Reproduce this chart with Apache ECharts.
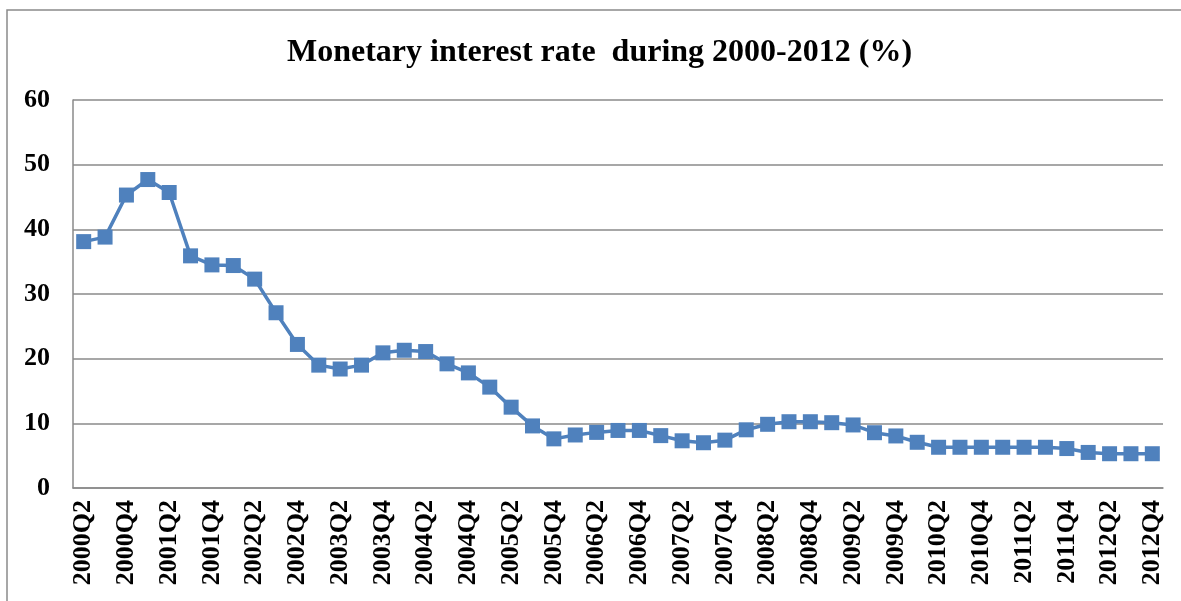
<!DOCTYPE html>
<html>
<head>
<meta charset="utf-8">
<script src="https://cdn.jsdelivr.net/npm/echarts@6/dist/echarts.min.js"></script>
<style>
  html, body { margin: 0; padding: 0; background: #ffffff; }
  #chart { width: 1181px; height: 601px; }
</style>
</head>
<body>
<div id="chart"></div>
<script>
// Quarterly periods, 2000Q2 to 2012Q4
const quarters = [
  '2000Q2','2000Q3','2000Q4','2001Q1','2001Q2','2001Q3','2001Q4','2002Q1','2002Q2','2002Q3',
  '2002Q4','2003Q1','2003Q2','2003Q3','2003Q4','2004Q1','2004Q2','2004Q3','2004Q4','2005Q1',
  '2005Q2','2005Q3','2005Q4','2006Q1','2006Q2','2006Q3','2006Q4','2007Q1','2007Q2','2007Q3',
  '2007Q4','2008Q1','2008Q2','2008Q3','2008Q4','2009Q1','2009Q2','2009Q3','2009Q4','2010Q1',
  '2010Q2','2010Q3','2010Q4','2011Q1','2011Q2','2011Q3','2011Q4','2012Q1','2012Q2','2012Q3',
  '2012Q4'
];

// Monetary interest rate (%)
const interestRate = [
  38.1, 38.8, 45.3, 47.7, 45.7, 35.9, 34.5, 34.4, 32.3, 27.1,
  22.2, 19.0, 18.4, 19.0, 20.9, 21.3, 21.1, 19.2, 17.8, 15.6,
  12.5, 9.6, 7.6, 8.2, 8.6, 8.9, 8.9, 8.1, 7.3, 7.0,
  7.4, 9.0, 9.85, 10.25, 10.25, 10.1, 9.75, 8.55, 8.05, 7.07,
  6.3, 6.3, 6.3, 6.3, 6.3, 6.3, 6.1, 5.5, 5.3, 5.3,
  5.3
];

const yTicks = { min: 0, max: 60, interval: 10 };
const titleText = 'Monetary interest rate  during 2000-2012 (%)';

const serif = '"Liberation Serif", "Times New Roman", serif';
const gray = '#8a8a8a';

const chart = echarts.init(document.getElementById('chart'), null, { renderer: 'canvas' });
chart.setOption({
  animation: false,
  backgroundColor: '#ffffff',
  graphic: [{
    type: 'rect',
    shape: { x: 7, y: 10, width: 1200, height: 620 },
    style: { fill: 'none', stroke: gray, lineWidth: 1.5 },
    silent: true
  }],
  title: {
    text: titleText,
    left: 282,
    top: 32,
    textStyle: { fontFamily: serif, fontWeight: 'bold', fontSize: 32, color: '#000' }
  },
  grid: { left: 73, right: 18, top: 100, bottom: 113 },
  xAxis: {
    type: 'category',
    data: quarters,
    boundaryGap: true,
    axisLine: { show: true, lineStyle: { color: gray, width: 1.5 } },
    axisTick: { show: false },
    axisLabel: {
      interval: 1,
      rotate: 90,
      margin: 12,
      fontFamily: serif,
      fontWeight: 'bold',
      fontSize: 26,
      color: '#000'
    },
    splitLine: { show: false }
  },
  yAxis: {
    type: 'value',
    min: yTicks.min,
    max: yTicks.max,
    interval: yTicks.interval,
    axisLine: { show: true, lineStyle: { color: gray, width: 1.5 } },
    axisTick: { show: false },
    axisLabel: {
      margin: 23,
      fontFamily: serif,
      fontWeight: 'bold',
      fontSize: 26,
      color: '#000'
    },
    splitLine: { show: true, lineStyle: { color: gray, width: 1.5 } }
  },
  series: [{
    type: 'line',
    data: interestRate,
    symbol: 'rect',
    symbolSize: 15,
    showAllSymbol: true,
    lineStyle: { color: '#4F81BD', width: 3.5 },
    itemStyle: { color: '#4F81BD' }
  }]
});
</script>
</body>
</html>
